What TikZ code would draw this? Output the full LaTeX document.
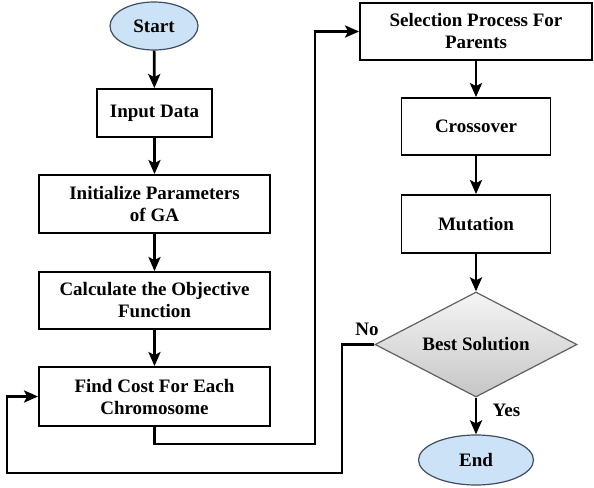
\documentclass[tikz,border=0pt]{standalone}
\usepackage{fontspec}
\setmainfont{Liberation Serif}
\usepackage{tikz}
\usetikzlibrary{arrows.meta,shapes.geometric}
\definecolor{cblue}{rgb}{0.80, 0.89, 0.97}
\definecolor{cedge}{rgb}{0.25, 0.30, 0.38}

\begin{document}
\begin{tikzpicture}[x=1pt,y=-1pt,->,>={Stealth[length=14pt,width=12pt,inset=3pt]},
  line width=2.7pt,font=\fontsize{19}{22}\selectfont\bfseries,
  proc node/.style={rectangle,draw,line width=1.8pt,fill=white,align=center,inner sep=2pt},
  term node/.style={ellipse,draw=cedge,line width=1.2pt,fill=cblue,inner sep=1pt},
  dec node/.style={diamond,aspect=1.92,draw=gray!75!black,line width=1.2pt,top color=gray!8,bottom color=gray!45,
    inner sep=1pt,minimum width=202pt,minimum height=105pt}]
  \useasboundingbox (0,0) rectangle (594,487);
  % left column
  \node[term node,minimum width=88pt,minimum height=48pt] (start) at (154,26) {Start};
  \node[proc node,minimum width=115pt,minimum height=48pt] (input) at (154.5,113) {Input Data};
  \node[proc node,minimum width=231pt,minimum height=58pt] (init) at (154.5,204) {Initialize Parameters\\of GA};
  \node[proc node,minimum width=231pt,minimum height=57pt] (calc) at (154.5,300.5) {Calculate the Objective\\Function};
  \node[proc node,minimum width=231pt,minimum height=59pt] (cost) at (154.5,396.5) {Find Cost For Each\\Chromosome};
  % right column
  \node[proc node,minimum width=232pt,minimum height=57pt] (select) at (476,31.5) {Selection Process For\\Parents};
  \node[proc node,minimum width=149pt,minimum height=57pt] (cross) at (476,126.5) {Crossover};
  \node[proc node,minimum width=149pt,minimum height=58pt] (mutate) at (476,224) {Mutation};
  \node[dec node] (best) at (476,344.5) {Best Solution};
  \node[term node,minimum width=115pt,minimum height=50pt] (end) at (476,460) {End};

  \coordinate (c1) at (315,444);
  \coordinate (n0) at (342,344.5);
  \coordinate (n2) at (7,473);

  \path
    (start) edge (input)
    (input) edge (init)
    (init) edge (calc)
    (calc) edge (cost)
    (select) edge (cross)
    (cross) edge (mutate)
    (mutate) edge (best)
    (best) edge node[right=12pt,pos=0.35] {Yes} (end);

  \draw (cost.south) |- (c1) |- (select.west);
  \draw (best.west) -- node[above=4pt,xshift=4pt,pos=0.35] {No} (n0) |- (n2) |- (cost.west);
\end{tikzpicture}
\end{document}
